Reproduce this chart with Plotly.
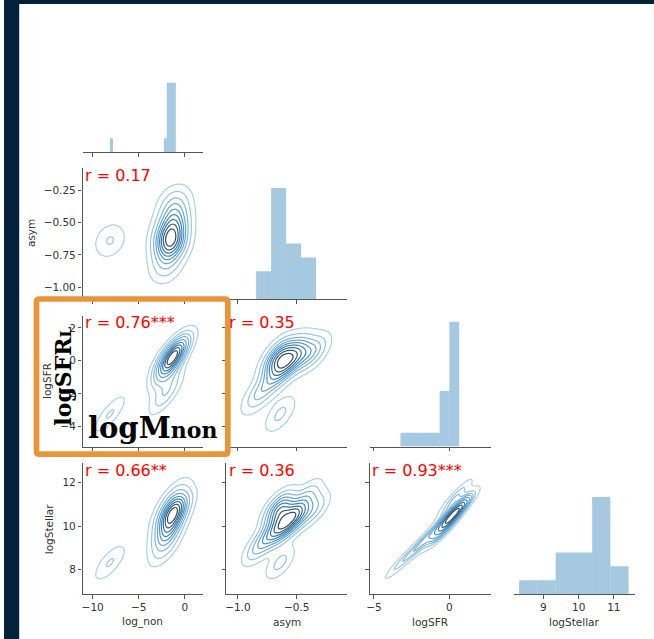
import numpy as np
import plotly.graph_objects as go

W, H = 654, 639

# ---------------- data (17 galaxies) ----------------
variables = ["log_non", "asym", "logSFR", "logStellar"]
log_non = [-8.12, -2.10, -1.90, -1.80, -1.70, -1.55, -1.75, -1.45, -1.20,
           -1.50, -1.10, -1.35, -0.98, -1.25, -1.68, -1.05, -1.40]
asym = [-0.64, -0.845, -0.76, -0.66, -0.62, -0.70, -0.58, -0.55, -0.65,
        -0.63, -0.45, -0.68, -0.52, -0.40, -0.61, -0.335, -0.50]
logSFR = [-3.24, -2.20, -1.60, -0.90, -0.50, -0.30, -0.15, -0.05, 0.10,
          0.20, 0.30, 0.35, 0.40, 0.45, 0.50, 0.55, 0.66]
logStellar = [8.31, 8.90, 9.45, 9.60, 10.10, 9.80, 9.95, 10.30, 10.60,
              11.00, 10.45, 10.80, 10.55, 11.42, 10.65, 10.85, 10.70]
hist_bins = [22, 4, 6, 6]

r_pairs = [(1, 0), (2, 0), (3, 0), (2, 1), (3, 1), (3, 2)]
r_labels = ["r = 0.17", "r = 0.76***", "r = 0.66**", "r = 0.35", "r = 0.36", "r = 0.93***"]

x_tickvals = {"log_non": [-10, -5, 0], "asym": [-1.0, -0.5],
              "logSFR": [-5, 0], "logStellar": [9, 10, 11]}
x_ticktext = {"log_non": ["−10", "−5", "0"], "asym": ["−1.0", "−0.5"],
              "logSFR": ["−5", "0"], "logStellar": ["9", "10", "11"]}
y_tickvals = {"asym": [-0.25, -0.5, -0.75, -1.0], "logSFR": [2, 0, -2, -4],
              "logStellar": [12, 10, 8]}
y_ticktext = {"asym": ["−0.25", "−0.50", "−0.75", "−1.00"],
              "logSFR": ["2", "0", "−2", "−4"], "logStellar": ["12", "10", "8"]}

overlay_y_text = 'logSFR<span style="font-size:15px">L</span>'
overlay_x_text = 'logM<span style="font-size:22px">non</span>'

# ---------------- settings ----------------
data = {"log_non": log_non, "asym": asym, "logSFR": logSFR, "logStellar": logStellar}
x_range = {"log_non": [-11.1, 2.0], "asym": [-1.10, -0.073],
           "logSFR": [-5.28, 2.74], "logStellar": [8.16, 11.59]}
y_range = {"asym": [-1.09, -0.08], "logSFR": [-5.22, 2.75], "logStellar": [6.86, 12.91]}
diag_ymax = 9.45
n_levels = 10
thresh = 0.05
gridsize = 160

col_left = [79, 223.5, 368, 513]
col_w = 121.5
row_bottom = [152, 299, 446.5, 594]
row_h = 131

SPINE = "#555555"
TICKC = "#333333"
FONT = "DejaVu Sans"
BAR_COLOR = "rgba(31,119,180,0.4)"
CMAP = [(171, 208, 230), (55, 135, 192), (51, 51, 51)]


def cmap_color(t):
    t = min(max(t, 0.0), 1.0)
    seg = t * (len(CMAP) - 1)
    i = min(int(seg), len(CMAP) - 2)
    f = seg - i
    c = [CMAP[i][k] + (CMAP[i + 1][k] - CMAP[i][k]) * f for k in range(3)]
    return "rgb(%d,%d,%d)" % tuple(int(round(v)) for v in c)


def kde_grid(xd, yd, cut=3):
    xd = np.asarray(xd, float)
    yd = np.asarray(yd, float)
    d = np.vstack([xd, yd])
    n = d.shape[1]
    factor = n ** (-1.0 / 6.0)
    cov = np.cov(d, ddof=1) * factor ** 2
    inv = np.linalg.inv(cov)
    norm = 1.0 / (2 * np.pi * np.sqrt(np.linalg.det(cov)) * n)
    bw = np.sqrt(np.diag(cov))
    xs = np.linspace(xd.min() - cut * bw[0], xd.max() + cut * bw[0], gridsize)
    ys = np.linspace(yd.min() - cut * bw[1], yd.max() + cut * bw[1], gridsize)
    X, Y = np.meshgrid(xs, ys)
    dx = X[..., None] - xd
    dy = Y[..., None] - yd
    q = inv[0, 0] * dx * dx + 2 * inv[0, 1] * dx * dy + inv[1, 1] * dy * dy
    Z = norm * np.exp(-0.5 * q).sum(-1)
    return xs, ys, Z


def quantile_to_level(Z, isoprop):
    vals = np.sort(Z.ravel())[::-1]
    cum = np.cumsum(vals) / vals.sum()
    idx = np.searchsorted(cum, 1 - np.asarray(isoprop))
    return np.take(vals, idx, mode="clip")


fig = go.Figure()
layout = dict(width=W, height=H, margin=dict(l=0, r=0, t=0, b=0),
              paper_bgcolor="white", plot_bgcolor="white", showlegend=False)
annotations = []

k = 0
for i in range(4):
    for j in range(i + 1):
        k += 1
        xa = "x" if k == 1 else "x%d" % k
        ya = "y" if k == 1 else "y%d" % k
        vx = variables[j]
        vy = variables[i]
        xdom = [col_left[j] / W, (col_left[j] + col_w) / W]
        ydom = [1 - row_bottom[i] / H, 1 - (row_bottom[i] - row_h) / H]
        xaxis = dict(domain=xdom, anchor=ya, range=x_range[vx], showgrid=False,
                     zeroline=False, showline=True, linecolor=SPINE, linewidth=1.2,
                     ticks="outside", ticklen=3.5, tickwidth=1, tickcolor=SPINE,
                     tickvals=x_tickvals[vx], ticktext=x_ticktext[vx],
                     showticklabels=(i == 3),
                     tickfont=dict(family=FONT, size=10.5, color=TICKC))
        if i == j:
            yaxis = dict(domain=ydom, anchor=xa, range=[0, diag_ymax], visible=False)
            vals = np.asarray(data[vx], float)
            counts, edges = np.histogram(vals, bins=hist_bins[j])
            centers = (edges[:-1] + edges[1:]) / 2
            widths = np.diff(edges)
            fig.add_trace(go.Bar(x=centers, y=counts, width=widths, xaxis=xa, yaxis=ya,
                                 marker=dict(color=BAR_COLOR, line=dict(width=0)),
                                 hoverinfo="skip"))
        else:
            yaxis = dict(domain=ydom, anchor=xa, range=y_range[vy], showgrid=False,
                         zeroline=False, showline=True, linecolor=SPINE, linewidth=1.2,
                         ticks="outside", ticklen=3.5, tickwidth=1, tickcolor=SPINE,
                         tickvals=y_tickvals[vy], ticktext=y_ticktext[vy],
                         showticklabels=(j == 0),
                         tickfont=dict(family=FONT, size=10.5, color=TICKC))
            xs, ys, Z = kde_grid(data[vx], data[vy])
            lev = np.unique(quantile_to_level(Z, np.linspace(thresh, 1, n_levels)))
            # monotone remap so that the iso-proportion levels become 0,1,2,...
            knots = np.concatenate([[0.0], lev])
            ranks = np.arange(-1, len(lev), dtype=float)
            Zr = np.round(np.interp(Z, knots, ranks), 4)
            drawn = len(lev) - 1  # the top level is the peak itself
            cs = []
            for m in range(drawn):
                pos = m / (drawn - 1) if drawn > 1 else 0.0
                cs.append([pos, cmap_color((lev[m] - lev[0]) / (lev[-1] - lev[0]))])
            fig.add_trace(go.Contour(x=xs, y=ys, z=Zr, xaxis=xa, yaxis=ya,
                                     zauto=False, zmin=0, zmax=drawn - 1,
                                     autocontour=False,
                                     contours=dict(coloring="lines", start=0,
                                                   end=drawn - 1, size=1),
                                     colorscale=cs, showscale=False,
                                     line=dict(width=1.2, smoothing=1),
                                     hoverinfo="skip"))
            p = r_pairs.index((i, j))
            annotations.append(dict(text=r_labels[p], xref="%s domain" % xa,
                                    yref="%s domain" % ya, x=0.005, y=0.946,
                                    xanchor="left", yanchor="middle", showarrow=False,
                                    font=dict(family=FONT, size=16, color="red")))
        layout["xaxis" if k == 1 else "xaxis%d" % k] = xaxis
        layout["yaxis" if k == 1 else "yaxis%d" % k] = yaxis

# axis titles
xtitle_y = 621.7
for j, v in enumerate(variables):
    annotations.append(dict(text=v, xref="paper", yref="paper",
                            x=(col_left[j] + col_w / 2) / W, y=1 - xtitle_y / H,
                            xanchor="center", yanchor="middle", showarrow=False,
                            font=dict(family=FONT, size=10.5, color=TICKC)))
ytitle_x = [None, 26.7, 43.3, 45.0]
for i in range(1, 4):
    annotations.append(dict(text=variables[i], xref="paper", yref="paper",
                            x=ytitle_x[i] / W, y=1 - (row_bottom[i] - row_h / 2) / H,
                            xanchor="center", yanchor="middle", textangle=-90,
                            showarrow=False,
                            font=dict(family=FONT, size=10.5, color=TICKC)))

# overlay labels
annotations.append(dict(text=overlay_y_text, xref="paper", yref="paper",
                        x=59.5 / W, y=1 - 376.5 / H, xanchor="center", yanchor="middle",
                        textangle=-90, showarrow=False,
                        font=dict(family="DejaVu Serif", size=22, color="black",
                                  weight="bold")))
annotations.append(dict(text=overlay_x_text, xref="paper", yref="paper",
                        x=83 / W, y=1 - 428 / H, xanchor="left", yanchor="middle",
                        showarrow=False,
                        font=dict(family="DejaVu Serif", size=29, color="black",
                                  weight="bold")))
layout["annotations"] = annotations

# frame + highlight box
NAVY = "#05203b"
ORANGE = "#E8953A"
bl, br, bt, bb, rad = 32.7, 225.2, 299.0, 454.2, 3.0


def px(x):
    return x / W


def py(y):
    return 1 - y / H


box_path = ("M {a},{b} L {c},{b} Q {d},{b} {d},{e} L {d},{f} Q {d},{g} {c},{g} "
            "L {a},{g} Q {h},{g} {h},{f} L {h},{e} Q {h},{b} {a},{b} Z").format(
    a=px(bl + rad), b=py(bt), c=px(br - rad), d=px(br), e=py(bt + rad),
    f=py(bb - rad), g=py(bb), h=px(bl))
layout["shapes"] = [
    dict(type="rect", xref="paper", yref="paper", x0=0, x1=15.3 / W, y0=0, y1=1,
         fillcolor=NAVY, line=dict(width=0), layer="above"),
    dict(type="rect", xref="paper", yref="paper", x0=0, x1=1, y0=1 - 4 / H, y1=1,
         fillcolor=NAVY, line=dict(width=0), layer="above"),
    dict(type="path", xref="paper", yref="paper", path=box_path,
         line=dict(color=ORANGE, width=5.7), layer="above"),
]

fig.update_layout(**layout)
fig.write_html("out.html")
